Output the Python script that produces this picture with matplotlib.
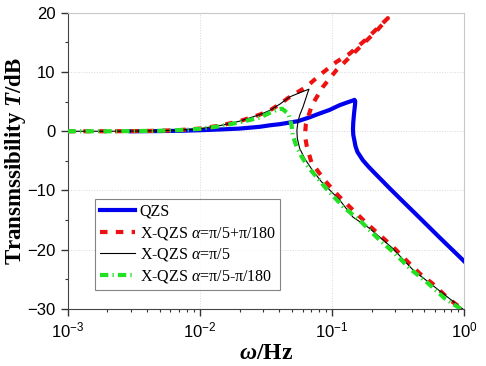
import matplotlib
matplotlib.use('Agg')
import matplotlib.pyplot as plt
import numpy as np
from matplotlib.ticker import FixedLocator, FuncFormatter, LogLocator, NullFormatter, MultipleLocator

plt.rcParams['mathtext.fontset'] = 'custom'
plt.rcParams['mathtext.rm'] = 'Liberation Serif'
plt.rcParams['mathtext.it'] = 'Liberation Serif:italic'
plt.rcParams['mathtext.bf'] = 'Liberation Serif:bold'
plt.rcParams['mathtext.bfit'] = 'Liberation Serif:italic:bold'

# QZS (path follows the fold, so frequencies are not monotonic)
qzs_f = [0.003, 0.005, 0.0071, 0.01, 0.0142, 0.02, 0.0284, 0.0338, 0.0405, 0.0553,
         0.0667, 0.0807, 0.0960, 0.1143, 0.1300, 0.1442, 0.1480, 0.1500, 0.1495,
         0.1470, 0.1450, 0.1443, 0.1450, 0.1510, 0.1560, 0.1714, 0.1894, 0.2103,
         0.2400, 0.2724, 0.3250, 0.4600, 0.6494, 1.0]
qzs_db = [0, 0.03, 0.08, 0.17, 0.3, 0.45, 0.75, 1.0, 1.2, 1.7,
          2.3, 3.0, 3.6, 4.4, 4.85, 5.2, 5.3, 5.1, 4.5,
          3.0, 1.5, 0.4, -0.6, -2.6, -3.5, -4.9, -6.0, -7.05,
          -8.35, -9.6, -11.3, -14.6, -17.9, -21.95]

# X-QZS alpha = pi/5 + pi/180
red_f = [0.001, 0.002, 0.003, 0.005, 0.0071, 0.01, 0.0142, 0.02, 0.0284, 0.0338, 0.0405,
         0.0465, 0.0640, 0.0831, 0.108, 0.1361, 0.1767, 0.2188, 0.2650,
         0.2188, 0.1767, 0.1361, 0.108, 0.0855, 0.0705, 0.0635, 0.0625, 0.0645,
         0.0698, 0.0881, 0.1110, 0.1442, 0.184, 0.2295, 0.2979, 0.3651, 0.46,
         0.597, 0.7534, 0.9507, 1.0]
red_db = [0, 0, 0.02, 0.08, 0.2, 0.45, 0.95, 1.7, 2.8, 3.5, 4.6,
          5.6, 7.5, 9.7, 11.7, 13.1, 15.3, 17.3, 19.1,
          17.0, 15.0, 12.5, 10.3, 7.5, 4.4, 1.2, -0.8, -2.5,
          -5.2, -8.3, -10.8, -13.3, -15.6, -17.5, -19.8, -21.8, -24.0,
          -26.0, -28.2, -29.9, -30.3]

# X-QZS alpha = pi/5
blk_f = [0.001, 0.002, 0.003, 0.005, 0.0071, 0.01, 0.0142, 0.02, 0.0284, 0.0338, 0.0405,
         0.0479, 0.0570, 0.0670, 0.0655, 0.0640, 0.0604, 0.0570, 0.0553, 0.0543, 0.0547,
         0.0570, 0.0622, 0.0698, 0.0831, 0.0990, 0.1143, 0.1442, 0.1927, 0.2891,
         0.4094, 0.6152, 1.0]
blk_db = [0, 0, 0.02, 0.08, 0.2, 0.45, 0.95, 1.7, 2.8, 3.5, 4.6,
          5.8, 6.5, 7.1, 6.5, 5.8, 4.1, 2.7, 1.6, 0.17, -1.2,
          -2.9, -4.6, -6.3, -8.5, -10.2, -11.6, -14.5, -16.4, -19.8,
          -23.4, -26.5, -30.2]

# X-QZS alpha = pi/5 - pi/180
grn_f = [0.001, 0.002, 0.003, 0.005, 0.0071, 0.01, 0.0142, 0.02, 0.0284, 0.0338, 0.0390,
         0.0420, 0.0470, 0.0495, 0.0505, 0.0540, 0.0587, 0.0659, 0.0907, 0.1211,
         0.1667, 0.2228, 0.2979, 0.3983, 0.5171, 0.7113, 1.0]
grn_db = [0, 0, 0.02, 0.08, 0.2, 0.4, 0.85, 1.5, 2.3, 3.1, 3.7,
          3.8, 2.9, 1.0, -0.7, -2.6, -4.2, -6.0, -9.7, -12.7,
          -15.3, -18.1, -20.6, -23.4, -25.4, -28.2, -30.4]

fig = plt.figure(figsize=(4.86, 3.66), dpi=100)
ax = fig.add_axes([0.139, 0.156, 0.816, 0.809])

ax.plot(qzs_f, qzs_db, color='#0000ee', lw=3.0, label='QZS', zorder=3,
        solid_joinstyle='round')
ax.plot(red_f, red_db, color='#ee1111', lw=3.0, dashes=(1.8, 2.0),
        label='X-QZS $\\alpha$=π/5+π/180', zorder=4)
ax.plot(blk_f, blk_db, color='black', lw=0.8, label='X-QZS $\\alpha$=π/5', zorder=5)
ax.plot(grn_f, grn_db, color='#22e022', lw=3.0, dashes=(2.0, 1.0, 0.3, 1.0),
        label='X-QZS $\\alpha$=π/5-π/180', zorder=6)

ax.set_xscale('log')
ax.set_xlim(1e-3, 1)
ax.set_ylim(-30, 20)
ax.yaxis.set_major_locator(MultipleLocator(10))
ax.yaxis.set_minor_locator(MultipleLocator(5))
ax.xaxis.set_major_locator(FixedLocator([1e-3, 1e-2, 1e-1, 1]))
ax.xaxis.set_minor_locator(LogLocator(base=10, subs=np.arange(2, 10)))
ax.xaxis.set_minor_formatter(NullFormatter())
ax.xaxis.set_major_formatter(FuncFormatter(
    lambda v, p: '$\\mathregular{10^{%d}}$' % int(round(np.log10(v)))))

for lab in ax.get_xticklabels() + ax.get_yticklabels():
    lab.set_family('Liberation Sans')
    lab.set_fontsize(12)
ax.tick_params(which='major', direction='out', length=5, width=1, colors='#333333',
               labelcolor='black', top=False, right=False)
ax.tick_params(which='minor', direction='out', length=2.5, width=0.8, colors='#333333',
               top=False, right=False)

ax.grid(True, which='major', color='#d8d8d8', ls=':', lw=0.7)
ax.spines['left'].set_color('#444444')
ax.spines['bottom'].set_color('#444444')
ax.spines['top'].set_color('#c8c8c8')
ax.spines['right'].set_color('#c8c8c8')

ax.set_ylabel('Transmssibility $\\mathbfit{T}$/dB', family='Liberation Serif',
              fontweight='bold', fontsize=16.5)
ax.yaxis.set_label_coords(-0.10, 0.5)
ax.set_xlabel('$\\mathbfit{\\omega}$/Hz', family='Liberation Serif',
              fontweight='bold', fontsize=17, labelpad=2)

leg = ax.legend(loc='upper left', bbox_to_anchor=(0.069, 0.371), borderaxespad=0,
                prop={'family': 'Liberation Serif', 'size': 11.5}, frameon=True,
                fancybox=False, handlelength=2.2, handletextpad=0.3,
                labelspacing=0.3, borderpad=0.3)
leg.get_frame().set_edgecolor('#666666')
leg.get_frame().set_linewidth(0.8)

fig.savefig('out.png', dpi=100)
